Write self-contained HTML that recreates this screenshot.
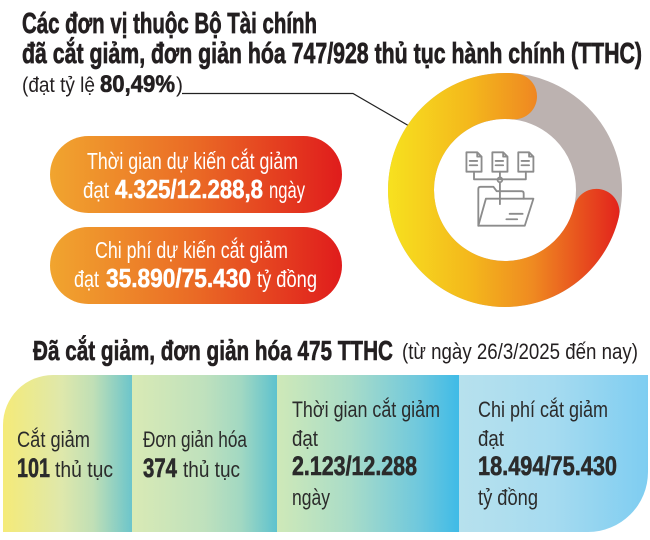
<!DOCTYPE html>
<html>
<head>
<meta charset="utf-8">
<style>
  html,body{margin:0;padding:0;background:#fff;}
  svg{display:block;}
  text{font-family:"Liberation Sans","DejaVu Sans",sans-serif;}
  .b{font-weight:bold;}
</style>
</head>
<body>
<svg width="650" height="540" viewBox="0 0 650 540" xmlns="http://www.w3.org/2000/svg">
  <defs>
    <linearGradient id="ring" gradientUnits="userSpaceOnUse" x1="387" y1="0" x2="622" y2="0">
      <stop offset="0" stop-color="#f7e21f"/>
      <stop offset="0.35" stop-color="#f4b81c"/>
      <stop offset="0.62" stop-color="#ef8a21"/>
      <stop offset="1" stop-color="#e2201c"/>
    </linearGradient>
    <linearGradient id="pill" x1="0" y1="0" x2="1" y2="0">
      <stop offset="0" stop-color="#f1a52f"/>
      <stop offset="0.5" stop-color="#ea6a25"/>
      <stop offset="1" stop-color="#e01c1c"/>
    </linearGradient>
    <linearGradient id="c1" gradientUnits="userSpaceOnUse" x1="3" y1="0" x2="132" y2="0">
      <stop offset="0" stop-color="#f5eb78"/>
      <stop offset="0.45" stop-color="#dfe8ab"/>
      <stop offset="0.7" stop-color="#c0dfb6"/>
      <stop offset="1" stop-color="#6cc5cb"/>
    </linearGradient>
    <linearGradient id="c2" gradientUnits="userSpaceOnUse" x1="132" y1="0" x2="277" y2="0">
      <stop offset="0" stop-color="#d9eab5"/>
      <stop offset="0.5" stop-color="#bfe1bd"/>
      <stop offset="0.75" stop-color="#a2d8c2"/>
      <stop offset="1" stop-color="#5ec2ce"/>
    </linearGradient>
    <linearGradient id="c3" gradientUnits="userSpaceOnUse" x1="277" y1="0" x2="459" y2="0">
      <stop offset="0" stop-color="#cfe9b8"/>
      <stop offset="0.4" stop-color="#a9dcc8"/>
      <stop offset="0.78" stop-color="#6fc8dd"/>
      <stop offset="1" stop-color="#3fbbe7"/>
    </linearGradient>
    <linearGradient id="c4" gradientUnits="userSpaceOnUse" x1="459" y1="0" x2="648" y2="0">
      <stop offset="0" stop-color="#b7e1ed"/>
      <stop offset="0.5" stop-color="#a6dbf0"/>
      <stop offset="1" stop-color="#7ecdf1"/>
    </linearGradient>
    <clipPath id="panel">
      <path d="M3,532 L3,425 A50,50 0 0 1 53,375 L648,375 L648,472 A60,60 0 0 1 588,532 Z"/>
    </clipPath>
  </defs>

  <!-- Title -->
  <g fill="#231f20" stroke="#231f20">
    <text x="22" y="33" class="b" font-size="28.5" stroke-width="0.7" textLength="295" lengthAdjust="spacingAndGlyphs">Các đơn vị thuộc Bộ Tài chính</text>
    <text x="22" y="63" class="b" font-size="28.5" stroke-width="0.7" textLength="620" lengthAdjust="spacingAndGlyphs">đã cắt giảm, đơn giản hóa 747/928 thủ tục hành chính (TTHC)</text>
    <text x="22" y="92" font-size="21" stroke-width="0" textLength="73" lengthAdjust="spacingAndGlyphs">(đạt tỷ lệ</text>
    <text x="100" y="92" class="b" font-size="24" stroke-width="0.6" textLength="75" lengthAdjust="spacingAndGlyphs">80,49%</text>
    <text x="176" y="92" font-size="21" stroke-width="0">)</text>
  </g>

  <!-- Arrow -->
  <polyline points="182,93.5 353,93.5 416,130" fill="none" stroke="#222" stroke-width="1.2"/>
  <polygon points="423,134 411.2,132.3 415.8,124.5" fill="#222"/>

  <!-- Donut -->
  <circle cx="505" cy="190" r="94" fill="none" stroke="#bcb2b0" stroke-width="46"/>
  <path d="M514,96.4 A94,94 0 1 0 596.4,211.9" fill="none" stroke="url(#ring)" stroke-width="46" stroke-linecap="round"/>

  <!-- Icon -->
  <g fill="none" stroke="#8c8c8c" stroke-width="1.7" stroke-linejoin="round" stroke-linecap="round" transform="translate(501,189) scale(1.08) translate(-501,-189)">
    <path d="M469,155 L479,155 L483,159 L483,173 L469,173 Z M479,155 L479,159 L483,159"/>
    <path d="M472,163 L479,163 M472,167 L479,167"/>
    <path d="M493,155 L503,155 L507,159 L507,173 L493,173 Z M503,155 L503,159 L507,159"/>
    <path d="M496,163 L503,163 M496,167 L503,167"/>
    <path d="M517,155 L527,155 L531,159 L531,173 L517,173 Z M527,155 L527,159 L531,159"/>
    <path d="M520,163 L527,163 M520,167 L527,167"/>
    <path d="M476,173 L476,180 L524,180 L524,173"/>
    <path d="M500,173 L500,178 M500,183 L500,203"/>
    <circle cx="500" cy="180.5" r="2.2"/>
    <path d="M480,223 L480,189 Q480,187 482,187 L494,187 L497,191 L520,191 Q522,191 522,193 L522,198"/>
    <path d="M487,198 L531,198 L523,223 L480,223 Z"/>
    <path d="M509,212 L521,212 M506,217 L516,217"/>
  </g>

  <!-- Pills -->
  <rect x="50" y="136" width="292" height="77" rx="38.5" fill="url(#pill)"/>
  <rect x="50" y="227" width="292" height="77" rx="38.5" fill="url(#pill)"/>
  <g fill="#fff" stroke="#fff">
    <text x="87" y="169" font-size="23" stroke-width="0" textLength="211" lengthAdjust="spacingAndGlyphs">Thời gian dự kiến cắt giảm</text>
    <text x="83" y="198" font-size="23" stroke-width="0" textLength="26" lengthAdjust="spacingAndGlyphs">đạt</text>
    <text x="115" y="198" class="b" font-size="25.5" stroke-width="0.5" textLength="148" lengthAdjust="spacingAndGlyphs">4.325/12.288,8</text>
    <text x="269" y="198" font-size="23" stroke-width="0" textLength="36" lengthAdjust="spacingAndGlyphs">ngày</text>

    <text x="95" y="258" font-size="23" stroke-width="0" textLength="193" lengthAdjust="spacingAndGlyphs">Chi phí dự kiến cắt giảm</text>
    <text x="74" y="287" font-size="23" stroke-width="0" textLength="25" lengthAdjust="spacingAndGlyphs">đạt</text>
    <text x="106" y="287" class="b" font-size="25.5" stroke-width="0.5" textLength="145" lengthAdjust="spacingAndGlyphs">35.890/75.430</text>
    <text x="257" y="287" font-size="23" stroke-width="0" textLength="60" lengthAdjust="spacingAndGlyphs">tỷ đồng</text>
  </g>

  <!-- Bottom header -->
  <text x="33" y="360" class="b" font-size="27.5" fill="#231f20" stroke="#231f20" stroke-width="0.6" textLength="360" lengthAdjust="spacingAndGlyphs">Đã cắt giảm, đơn giản hóa 475 TTHC</text>
  <text x="402" y="359" font-size="22" fill="#231f20" textLength="236" lengthAdjust="spacingAndGlyphs">(từ ngày 26/3/2025 đến nay)</text>

  <!-- Bottom panel -->
  <g clip-path="url(#panel)">
    <rect x="3" y="375" width="129" height="157" fill="url(#c1)"/>
    <rect x="132" y="375" width="145" height="157" fill="url(#c2)"/>
    <rect x="277" y="375" width="182" height="157" fill="url(#c3)"/>
    <rect x="459" y="375" width="189" height="157" fill="url(#c4)"/>
  </g>
  <g fill="#2b2b2b" stroke="#2b2b2b">
    <text x="17" y="447" font-size="22" stroke-width="0" textLength="73" lengthAdjust="spacingAndGlyphs">Cắt giảm</text>
    <text x="17" y="477" class="b" font-size="27" stroke-width="0.6" textLength="33" lengthAdjust="spacingAndGlyphs">101</text>
    <text x="55" y="477" font-size="22" stroke-width="0" textLength="58" lengthAdjust="spacingAndGlyphs">thủ tục</text>

    <text x="143" y="447" font-size="22" stroke-width="0" textLength="104" lengthAdjust="spacingAndGlyphs">Đơn giản hóa</text>
    <text x="143" y="477" class="b" font-size="27" stroke-width="0.6" textLength="34" lengthAdjust="spacingAndGlyphs">374</text>
    <text x="183" y="477" font-size="22" stroke-width="0" textLength="57" lengthAdjust="spacingAndGlyphs">thủ tục</text>

    <text x="292" y="417" font-size="22" stroke-width="0" textLength="148" lengthAdjust="spacingAndGlyphs">Thời gian cắt giảm</text>
    <text x="292" y="446" font-size="22" stroke-width="0" textLength="26" lengthAdjust="spacingAndGlyphs">đạt</text>
    <text x="292" y="475" class="b" font-size="27" stroke-width="0.6" textLength="125" lengthAdjust="spacingAndGlyphs">2.123/12.288</text>
    <text x="292" y="505" font-size="22" stroke-width="0" textLength="38" lengthAdjust="spacingAndGlyphs">ngày</text>

    <text x="478" y="417" font-size="22" stroke-width="0" textLength="130" lengthAdjust="spacingAndGlyphs">Chi phí cắt giảm</text>
    <text x="478" y="446" font-size="22" stroke-width="0" textLength="26" lengthAdjust="spacingAndGlyphs">đạt</text>
    <text x="478" y="475" class="b" font-size="27" stroke-width="0.6" textLength="139" lengthAdjust="spacingAndGlyphs">18.494/75.430</text>
    <text x="478" y="505" font-size="22" stroke-width="0" textLength="60" lengthAdjust="spacingAndGlyphs">tỷ đồng</text>
  </g>
</svg>
</body>
</html>
